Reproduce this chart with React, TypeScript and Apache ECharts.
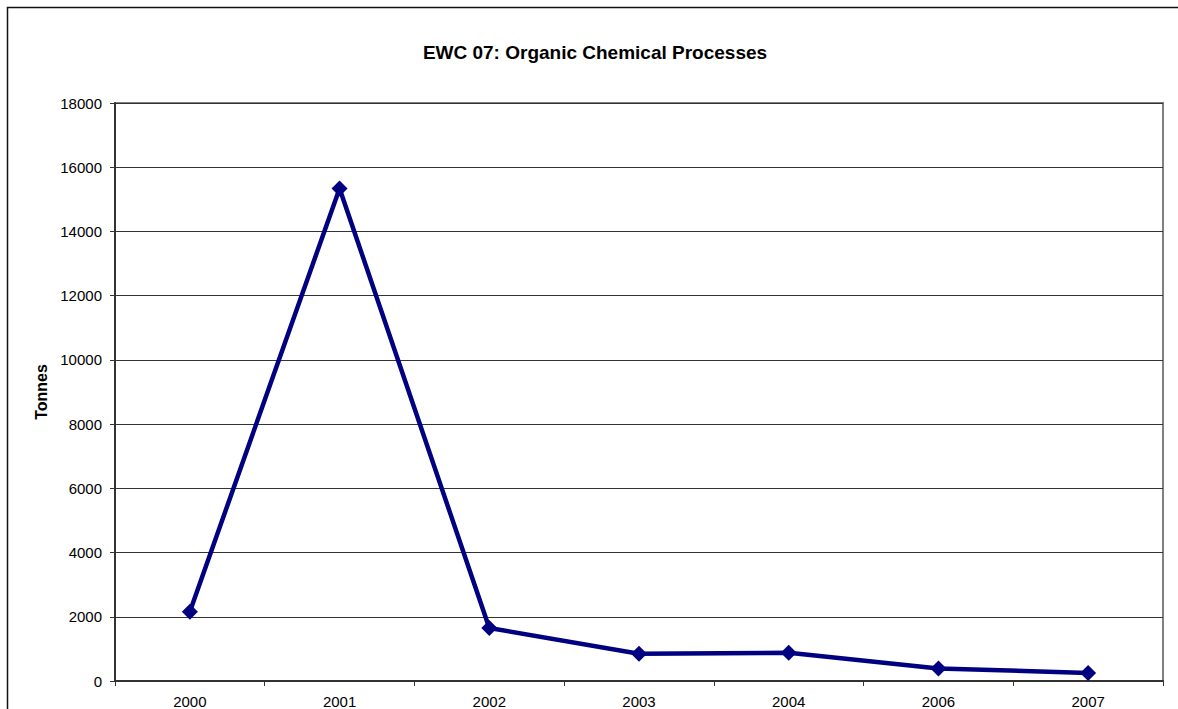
import React, { useEffect, useRef } from "react";
import * as echarts from "echarts";

const categories = ["2000", "2001", "2002", "2003", "2004", "2006", "2007"];
const tonnes = [2160, 15340, 1650, 850, 880, 390, 250];
const titleText = "EWC 07: Organic Chemical Processes";
const yAxisName = "Tonnes";

const FONT = "'Liberation Sans', Arial, sans-serif";

export default function App() {
  const ref = useRef<HTMLDivElement>(null);
  useEffect(() => {
    if (!ref.current) return;
    const chart = echarts.init(ref.current, undefined, { renderer: "svg" });
    chart.setOption({
      animation: false,
      backgroundColor: "#ffffff",
      title: {
        text: titleText,
        left: 590,
        top: 38,
        textAlign: "center",
        textStyle: { fontFamily: FONT, fontSize: 19, fontWeight: "bold", color: "#000" },
      },
      graphic: [
        {
          type: "polyline",
          shape: { points: [[7.5, 760], [7.5, 7.5], [1250, 7.5]] },
          style: { fill: "none", stroke: "#111", lineWidth: 1.5 },
          silent: true,
        },
      ],
      grid: {
        left: 115,
        top: 103,
        right: 15,
        bottom: 28,
        show: true,
        borderColor: "#808080",
        borderWidth: 2,
        backgroundColor: "transparent",
      },
      xAxis: {
        type: "category",
        data: categories,
        boundaryGap: true,
        axisLine: { show: true, lineStyle: { color: "#333", width: 2 } },
        axisTick: { show: true, alignWithLabel: false, length: 5, lineStyle: { color: "#333", width: 1 } },
        axisLabel: { fontFamily: FONT, fontSize: 15, color: "#000", margin: 13 },
        splitLine: { show: false },
      },
      yAxis: {
        type: "value",
        min: 0,
        max: 18000,
        interval: 2000,
        name: yAxisName,
        nameLocation: "middle",
        nameGap: 66,
        nameRotate: 90,
        nameTextStyle: { fontFamily: FONT, fontSize: 16, fontWeight: "bold", color: "#000" },
        axisLine: { show: true, lineStyle: { color: "#333", width: 2 } },
        axisTick: { show: true, length: 5, lineStyle: { color: "#333", width: 1 } },
        axisLabel: {
          fontFamily: FONT,
          fontSize: 15,
          color: "#000",
          margin: 13,
          formatter: (v: number) => String(v),
        },
        splitLine: { show: true, lineStyle: { color: "#333", width: 1 } },
      },
      series: [
        {
          type: "line",
          data: tonnes,
          symbol: "diamond",
          symbolSize: 16,
          lineStyle: { color: "#000080", width: 4.5 },
          itemStyle: { color: "#000080" },
          z: 5,
        },
      ],
    });
    return () => chart.dispose();
  }, []);
  return (
    <div
      ref={ref}
      style={{ position: "absolute", left: 0, top: 0, width: 1178, height: 709 }}
    />
  );
}
